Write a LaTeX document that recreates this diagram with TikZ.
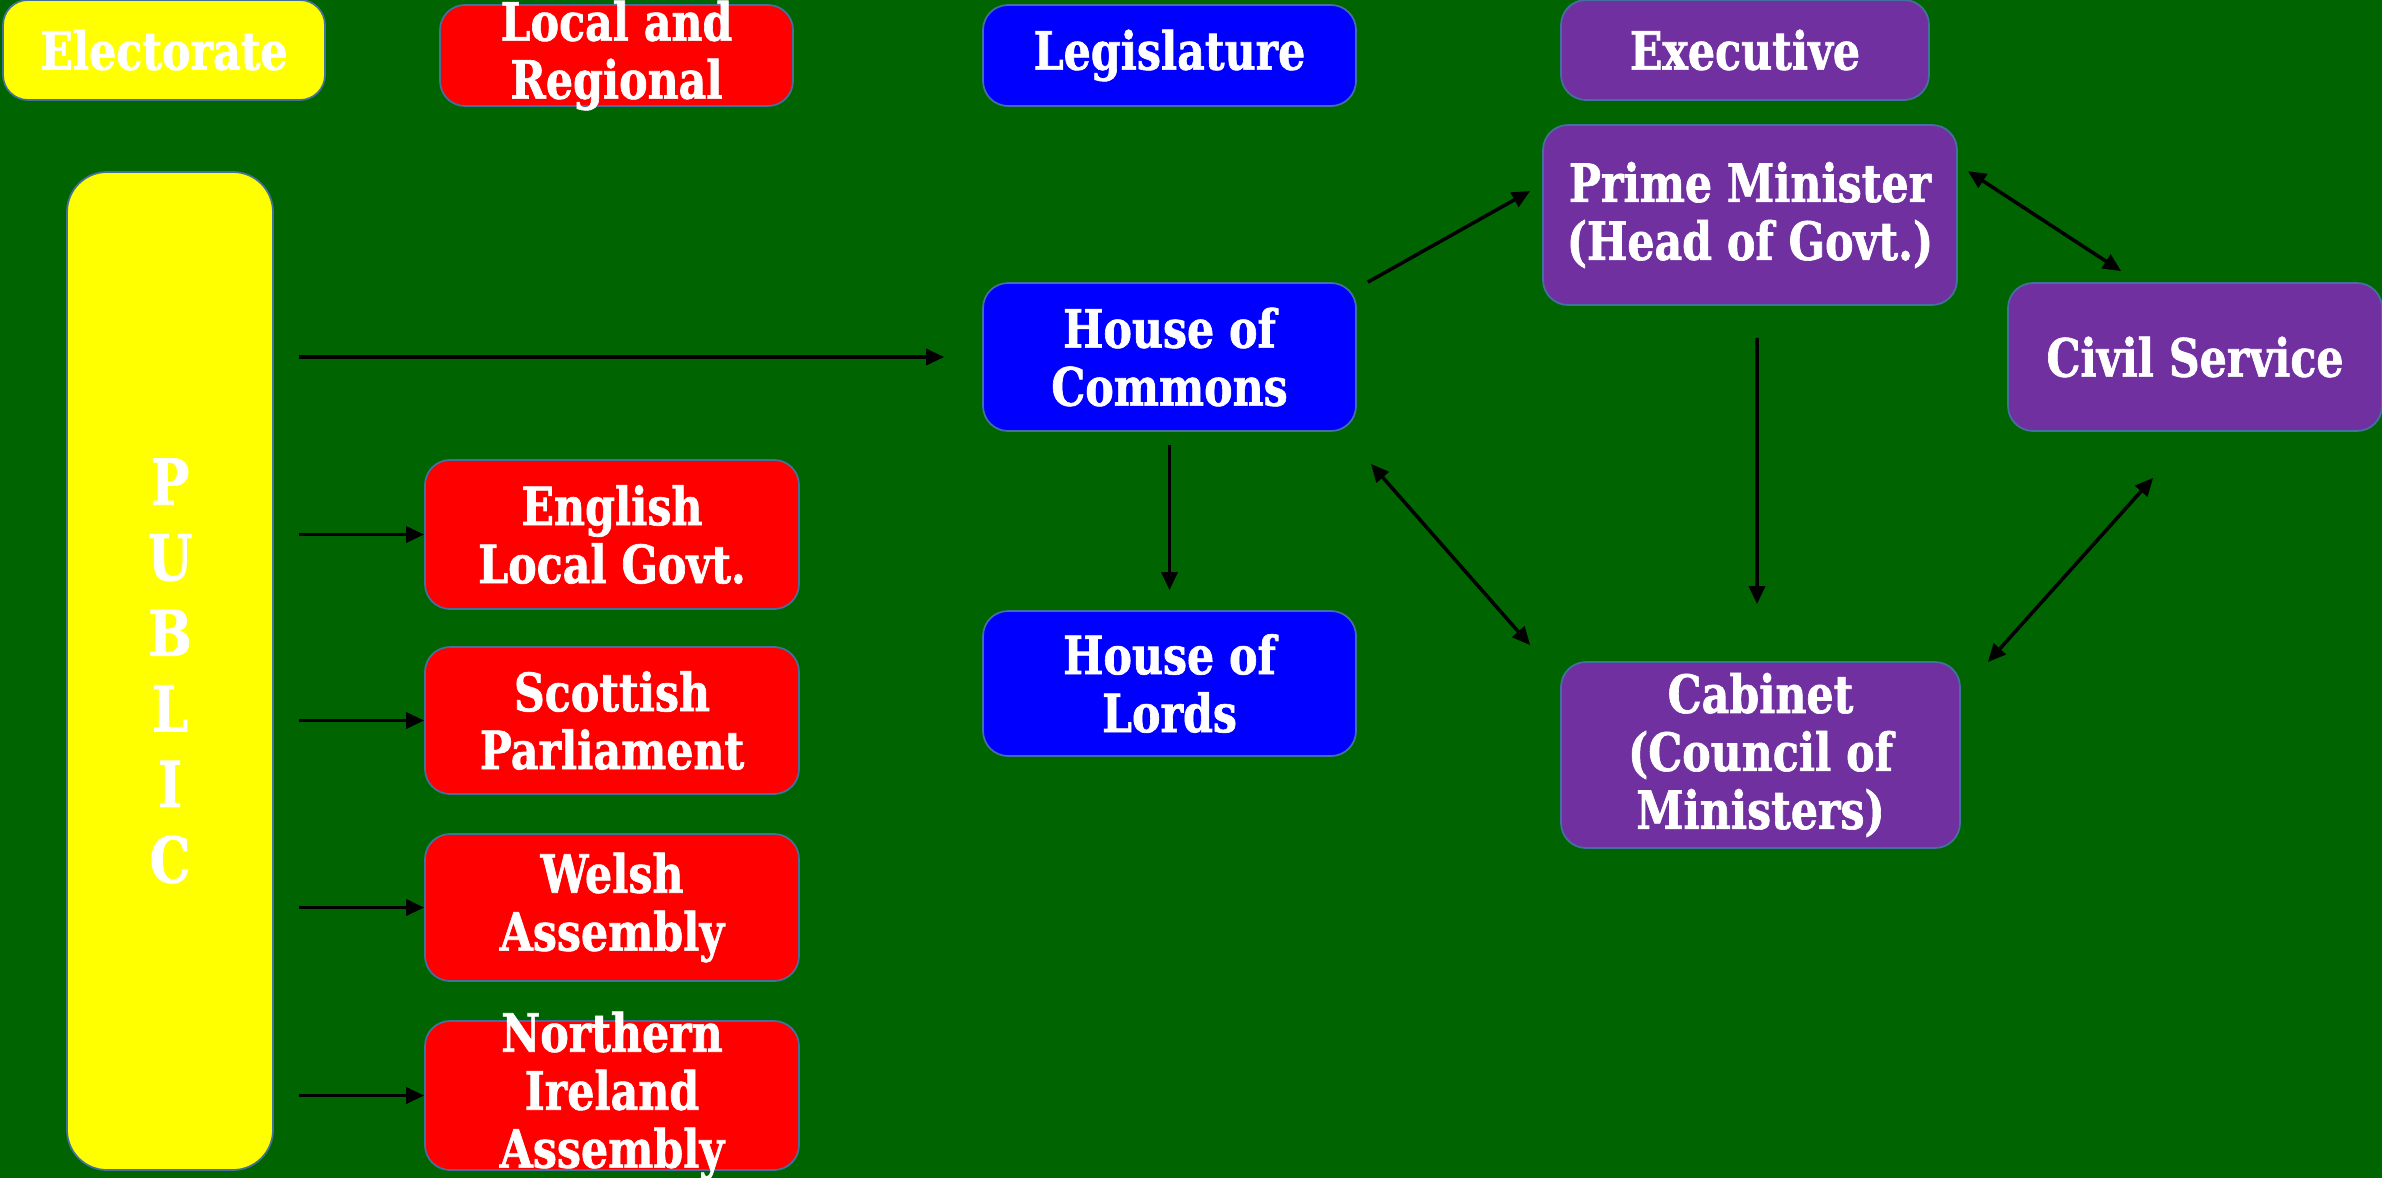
\documentclass[tikz,border=0pt]{standalone}
\usepackage{fontspec}
\setmainfont[FakeStretch=0.81, BoldFeatures={FakeBold=1.2}]{DejaVu Serif}
\usetikzlibrary{arrows.meta,calc}
\definecolor{fieldgreen}{RGB}{0,100,0}
\definecolor{boxyellow}{RGB}{255,255,0}
\definecolor{boxred}{RGB}{255,0,0}
\definecolor{boxblue}{RGB}{0,0,255}
\definecolor{boxpurple}{RGB}{112,48,160}
\definecolor{boxedge}{RGB}{65,113,156}

\begin{document}
\begin{tikzpicture}[
  box/.style={draw=boxedge, line width=0.5pt, rounded corners=0.25cm, inner sep=0pt,
    text=white, align=center, font=\fontsize{15}{16.5}\selectfont\bfseries},
  txt/.style={text=white, align=center, inner sep=0pt, font=\fontsize{15}{16.5}\selectfont\bfseries},
  arr/.style={-{Triangle[length=0.18cm,width=0.16cm]}, line width=0.035cm},
  both/.style={{Triangle[length=0.18cm,width=0.16cm]}-{Triangle[length=0.18cm,width=0.16cm]}, line width=0.035cm}
]
\useasboundingbox (0,0) rectangle (23.82,-11.78);
\fill [fieldgreen] (0,0) rectangle (23.82,-11.78);

% top row
\node [box, fill=boxyellow, minimum width=3.22cm, minimum height=1cm] (elec) at (1.64,-0.5) {Electorate};
\node [box, fill=boxred, minimum width=3.53cm, minimum height=1.01cm] (locreg) at (6.165,-0.555) {};
\node [txt] at (locreg.center) {Local and\\Regional};
\node [box, fill=boxblue, minimum width=3.73cm, minimum height=1.01cm] (legis) at (11.695,-0.555) {Legislature};
\node [box, fill=boxpurple, minimum width=3.68cm, minimum height=1cm] (exec) at (17.45,-0.5) {Executive};

% public
\node [box, fill=boxyellow, rounded corners=0.4cm, minimum width=2.06cm, minimum height=9.98cm,
  font=\fontsize{18}{21.5}\selectfont\bfseries] (pub) at (1.7,-6.71) {P\\U\\B\\L\\I\\C};

% regional
\node [box, fill=boxred, minimum width=3.74cm, minimum height=1.49cm] (eng) at (6.12,-5.345) {English\\Local Govt.};
\node [box, fill=boxred, minimum width=3.74cm, minimum height=1.47cm] (sco) at (6.12,-7.205) {Scottish\\Parliament};
\node [box, fill=boxred, minimum width=3.74cm, minimum height=1.47cm] (wel) at (6.12,-9.075) {Welsh\\Assembly};
\node [box, fill=boxred, minimum width=3.74cm, minimum height=1.49cm] (nir) at (6.12,-10.955) {};
\node [txt] at (nir.center) {Northern\\Ireland\\Assembly};

% legislature
\node [box, fill=boxblue, minimum width=3.73cm, minimum height=1.48cm] (hoc) at (11.695,-3.57) {House of\\Commons};
\node [box, fill=boxblue, minimum width=3.73cm, minimum height=1.45cm] (hol) at (11.695,-6.835) {House of\\Lords};

% executive
\node [box, fill=boxpurple, minimum width=4.14cm, minimum height=1.8cm] (pm) at (17.5,-2.15) {Prime Minister\\(Head of Govt.)};
\node [box, fill=boxpurple, minimum width=3.74cm, minimum height=1.48cm] (civ) at (21.95,-3.57) {Civil Service};
\node [box, fill=boxpurple, minimum width=3.99cm, minimum height=1.86cm] (cab) at (17.605,-7.55) {Cabinet\\(Council of\\Ministers)};

% arrows from the public
\draw [arr, shorten <=0.25cm, shorten >=0.38cm] (pub.east |- hoc.west) -- (hoc.west);
\draw [arr, shorten <=0.25cm] (pub.east |- eng.west) -- (eng.west);
\draw [arr, shorten <=0.25cm] (pub.east |- sco.west) -- (sco.west);
\draw [arr, shorten <=0.25cm] (pub.east |- wel.west) -- (wel.west);
\draw [arr, shorten <=0.25cm] (pub.east |- nir.west) -- (nir.west);

\draw [arr, shorten <=0.13cm, shorten >=0.2cm] (hoc.south) -- (hol.north);
\draw [arr] ($(hoc.north east)+(0.11,0)$) -- ($(pm.west)+(-0.12,0.24)$);
\draw [both] ($(hoc.south east)+(0.14,-0.32)$) -- ($(cab.north west)+(-0.3,0.16)$);
\draw [arr] ($(pm.south)+(0.07,-0.32)$) -- ($(cab.north)+(-0.035,0.57)$);
\draw [both] ($(pm.north east)+(0.1,-0.47)$) -- ($(civ.north west)+(1.14,0.11)$);
\draw [both] ($(civ.south west)+(1.46,-0.46)$) -- ($(cab.north east)+(0.27,-0.01)$);
\end{tikzpicture}
\end{document}
